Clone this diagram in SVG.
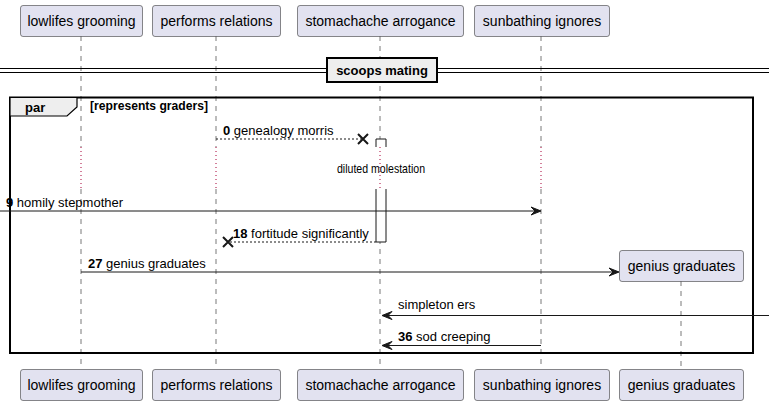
<svg xmlns="http://www.w3.org/2000/svg" width="769" height="406" viewBox="0 0 769 406">
<style>
.p{fill:#E2E2F0;stroke:#181818;stroke-width:0.5}
.pt{font-family:"Liberation Sans",Arial,sans-serif;font-size:14px;fill:#000;text-anchor:middle}
.ll{stroke:#555;stroke-width:0.8;stroke-dasharray:5,5;fill:none}
.dl{stroke:#A80036;stroke-width:1;stroke-dasharray:1,3;fill:none}
.m{font-family:"Liberation Sans",Arial,sans-serif;font-size:13px;fill:#000}
.b{font-weight:bold}
.sl{stroke:#181818;stroke-width:1;fill:none}
.ds{stroke:#181818;stroke-width:1;stroke-dasharray:2,2;fill:none}
.ah{fill:#181818;stroke:#181818;stroke-width:1}
.x{stroke:#181818;stroke-width:2}
</style>
<rect width="769" height="406" fill="#fff"/>
<g id="lifelines">
<line class="ll" x1="81" y1="36" x2="81" y2="147"/><line class="dl" x1="81" y1="147" x2="81" y2="189"/><line class="ll" x1="81" y1="189" x2="81" y2="369"/>
<line class="ll" x1="216" y1="36" x2="216" y2="147"/><line class="dl" x1="216" y1="147" x2="216" y2="189"/><line class="ll" x1="216" y1="189" x2="216" y2="369"/>
<line class="ll" x1="380" y1="36" x2="380" y2="147"/><line class="dl" x1="380" y1="147" x2="380" y2="189"/><line class="ll" x1="380" y1="189" x2="380" y2="369"/>
<line class="ll" x1="541" y1="36" x2="541" y2="147"/><line class="dl" x1="541" y1="147" x2="541" y2="189"/><line class="ll" x1="541" y1="189" x2="541" y2="369"/>
<line class="ll" x1="681" y1="281" x2="681" y2="369"/>
</g>
<g id="divider">
<line x1="0" y1="68.5" x2="769" y2="68.5" stroke="#000" stroke-width="1"/>
<line x1="0" y1="72.5" x2="769" y2="72.5" stroke="#000" stroke-width="1"/>
<rect x="327" y="58" width="110" height="24" fill="#EEEEEE" stroke="#000" stroke-width="2"/>
<text x="382" y="75" class="m b" text-anchor="middle">scoops mating</text>
</g>
<g id="par">
<rect x="10" y="97.5" width="743" height="255.5" fill="none" stroke="#000" stroke-width="2"/>
<path d="M10,97.5 H77 V107 L67,116 H10 Z" fill="#EEEEEE" stroke="#000" stroke-width="1.2"/>
<text x="25" y="112" class="m b">par</text>
<text x="90" y="110" class="m b" font-size="11" textLength="118" lengthAdjust="spacingAndGlyphs">[represents graders]</text>
</g>
<g id="activation">
<path d="M376,147 V139 H386 V147" fill="#fff" stroke="#181818" stroke-width="1"/>
<path d="M376,189 V242 H386 V189" fill="#fff" stroke="#181818" stroke-width="1"/>
<text x="337" y="173" class="m" font-size="10.5" textLength="88" lengthAdjust="spacingAndGlyphs">diluted molestation</text>
</g>
<g id="connectors">
<line class="ds" x1="216" y1="139" x2="363" y2="139"/>
<path class="x" d="M358,134 L368,144 M368,134 L358,144"/>
<text x="223" y="135" class="m"><tspan class="b">0</tspan> genealogy morris</text>
<line class="sl" x1="0" y1="211" x2="540" y2="211"/>
<polygon class="ah" points="541,211 531,207 535,211 531,215"/>
<text x="6" y="207" class="m"><tspan class="b">9</tspan> homily stepmother</text>
<line class="ds" x1="376" y1="242" x2="228" y2="242"/>
<path class="x" d="M223,237 L233,247 M233,237 L223,247"/>
<text x="233" y="238" class="m"><tspan class="b">18</tspan> fortitude significantly</text>
<line class="sl" x1="81" y1="272" x2="618" y2="272"/>
<polygon class="ah" points="619,272 609,268 613,272 609,276"/>
<text x="88" y="268" class="m"><tspan class="b">27</tspan> genius graduates</text>
<line class="sl" x1="769" y1="315.5" x2="383" y2="315.5"/>
<polygon class="ah" points="382,315.5 392,311.5 388,315.5 392,319.5"/>
<text x="398" y="309" class="m">simpleton ers</text>
<line class="sl" x1="541" y1="345.5" x2="383" y2="345.5"/>
<polygon class="ah" points="382,345.5 392,341.5 388,345.5 392,349.5"/>
<text x="398" y="341" class="m"><tspan class="b">36</tspan> sod creeping</text>
</g>
<g id="p-lowlifes">
<rect class="p" x="20.5" y="5.5" width="122" height="31" rx="2.5"/><text class="pt" x="81.5" y="26">lowlifes grooming</text>
<rect class="p" x="20.5" y="369.5" width="122" height="31" rx="2.5"/><text class="pt" x="81.5" y="390">lowlifes grooming</text>
</g>
<g id="p-performs">
<rect class="p" x="152.5" y="5.5" width="128" height="31" rx="2.5"/><text class="pt" x="216.5" y="26">performs relations</text>
<rect class="p" x="152.5" y="369.5" width="128" height="31" rx="2.5"/><text class="pt" x="216.5" y="390">performs relations</text>
</g>
<g id="p-stomachache">
<rect class="p" x="297.5" y="5.5" width="166" height="31" rx="2.5"/><text class="pt" x="380.5" y="26">stomachache arrogance</text>
<rect class="p" x="297.5" y="369.5" width="166" height="31" rx="2.5"/><text class="pt" x="380.5" y="390">stomachache arrogance</text>
</g>
<g id="p-sunbathing">
<rect class="p" x="474.5" y="5.5" width="135" height="31" rx="2.5"/><text class="pt" x="542" y="26">sunbathing ignores</text>
<rect class="p" x="474.5" y="369.5" width="135" height="31" rx="2.5"/><text class="pt" x="542" y="390">sunbathing ignores</text>
</g>
<g id="p-genius">
<rect class="p" x="619.5" y="250.5" width="124" height="31" rx="2.5"/><text class="pt" x="681.5" y="271">genius graduates</text>
<rect class="p" x="619.5" y="369.5" width="124" height="31" rx="2.5"/><text class="pt" x="681.5" y="390">genius graduates</text>
</g>
</svg>
